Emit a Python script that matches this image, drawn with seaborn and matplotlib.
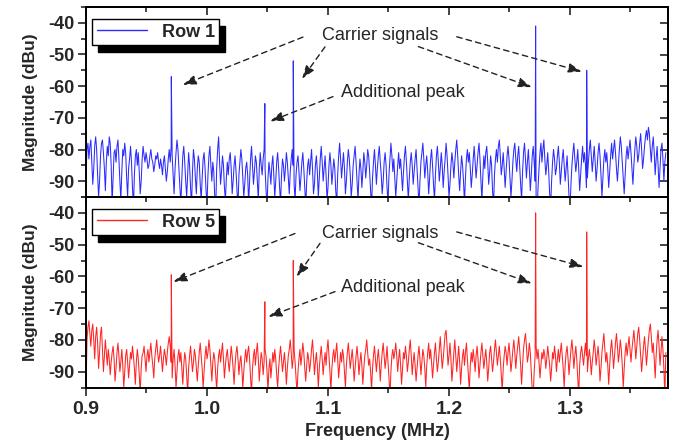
import numpy as np
import pandas as pd
import matplotlib
matplotlib.use("Agg")
import matplotlib.pyplot as plt
from matplotlib.patches import Rectangle
from matplotlib.ticker import MultipleLocator, NullFormatter
import seaborn as sns

# ---------------- data ----------------
freq_start = 0.9
freq_step = 0.0008

row1_noise = [
    -88, -80, -78, -83, -79, -77, -84, -91, -86, -79, -76, -80, -88, -95, -90, -82, -78, -77, -81, -86,
    -93, -84, -79, -82, -76, -78, -85, -97, -89, -81, -80, -84, -79, -77, -83, -90, -96, -87, -80, -82,
    -78, -81, -89, -95, -86, -83, -79, -84, -92, -98, -88, -82, -80, -85, -81, -87, -94, -90, -83, -79,
    -82, -84, -81, -83, -86, -85, -82, -80, -83, -84, -87, -85, -82, -83, -81, -84, -86, -83, -85, -88,
    -84, -82, -86, -90, -87, -83, -80, -84, -79, -82, -88, -94, -86, -81, -77, -80, -86, -92, -97, -89,
    -82, -79, -84, -90, -95, -88, -81, -85, -92, -98, -87, -80, -83, -89, -94, -86, -82, -84, -91, -96,
    -89, -83, -81, -86, -93, -97, -88, -82, -79, -85, -90, -84, -87, -95, -99, -86, -80, -76, -84, -91,
    -87, -82, -85, -92, -96, -89, -84, -88, -83, -81, -86, -94, -90, -85, -82, -87, -93, -98, -88, -84,
    -80, -83, -89, -95, -91, -86, -84, -88, -97, -90, -83, -79, -85, -91, -87, -82, -84, -90, -96, -86,
    -81, -85, -88, -83, -80, -86, -93, -98, -89, -84, -87, -91, -85, -82, -88, -95, -90, -84, -81, -86,
    -92, -97, -88, -83, -85, -90, -86, -81, -84, -89, -94, -87, -83, -80, -85, -91, -96, -88, -84, -82,
    -87, -93, -89, -84, -81, -86, -92, -98, -90, -85, -83, -88, -84, -80, -86, -94, -91, -85, -82, -87,
    -95, -89, -83, -79, -84, -90, -86, -82, -88, -96, -92, -85, -81, -85, -91, -87, -83, -86, -93, -97,
    -88, -82, -78, -83, -89, -85, -81, -86, -94, -90, -84, -80, -83, -88, -95, -91, -85, -82, -79, -84,
    -90, -96, -88, -83, -86, -92, -87, -81, -84, -89, -85, -80, -82, -87, -93, -98, -89, -84, -80, -85,
    -91, -86, -82, -79, -84, -88, -94, -90, -84, -81, -85, -92, -97, -88, -83, -78, -82, -87, -83, -89,
    -95, -90, -85, -81, -86, -83, -88, -93, -87, -82, -79, -84, -90, -96, -89, -84, -81, -85, -91, -87,
    -83, -80, -86, -92, -98, -90, -84, -81, -78, -83, -89, -85, -82, -87, -94, -89, -83, -80, -85, -91,
    -96, -88, -82, -79, -84, -90, -86, -81, -85, -92, -87, -83, -78, -82, -88, -95, -91, -85, -81, -84,
    -89, -84, -80, -77, -82, -88, -93, -87, -82, -85, -90, -97, -89, -83, -80, -84, -81, -86, -92, -88,
    -83, -79, -84, -89, -85, -81, -78, -83, -90, -96, -88, -82, -86, -81, -79, -84, -91, -87, -82, -85,
    -93, -98, -88, -83, -80, -84, -79, -77, -82, -88, -85, -81, -86, -92, -87, -82, -79, -83, -89, -95,
    -90, -84, -80, -78, -83, -87, -82, -79, -85, -91, -96, -87, -81, -78, -83, -89, -84, -80, -86, -93,
    -88, -82, -79, -84, -90, -97, -99, -92, -86, -81, -78, -84, -80, -77, -83, -88, -85, -81, -87, -94,
    -98, -90, -84, -80, -83, -88, -86, -82, -79, -84, -91, -87, -83, -80, -85, -90, -86, -82, -88, -95,
    -99, -91, -85, -81, -78, -83, -87, -84, -80, -86, -93, -88, -83, -79, -84, -81, -85, -92, -89, -84,
    -80, -77, -82, -87, -83, -79, -84, -90, -86, -81, -78, -82, -88, -95, -89, -83, -80, -84, -81, -86,
    -92, -87, -82, -78, -83, -80, -77, -81, -86, -90, -85, -80, -76, -79, -84, -89, -94, -88, -82, -79,
    -83, -80, -77, -81, -86, -91, -85, -80, -76, -79, -84, -82, -78, -75, -80, -86, -83, -79, -76, -74,
    -77, -73, -75, -80, -84, -79, -76, -81, -88, -83, -79, -85, -92, -86, -80, -78, -83, -90, -84, -81,
]

row5_noise = [
    -97, -80, -76, -74, -78, -82, -77, -75, -80, -86, -79, -76, -81, -89, -84, -78, -76, -83, -90, -85,
    -80, -84, -88, -83, -86, -91, -87, -84, -82, -86, -93, -89, -84, -81, -85, -90, -87, -83, -88, -95,
    -90, -85, -83, -87, -92, -88, -84, -86, -82, -85, -89, -94, -87, -83, -86, -91, -97, -89, -85, -84,
    -82, -86, -90, -85, -83, -87, -84, -81, -85, -88, -92, -86, -83, -80, -84, -87, -85, -82, -86, -90,
    -86, -83, -85, -88, -84, -81, -79, -82, -87, -92, -86, -83, -88, -95, -90, -85, -83, -87, -84, -89,
    -94, -88, -84, -86, -91, -97, -89, -85, -82, -86, -90, -87, -83, -85, -89, -93, -88, -84, -81, -85,
    -89, -95, -90, -85, -82, -86, -84, -80, -83, -88, -93, -87, -84, -86, -91, -96, -89, -85, -83, -87,
    -84, -81, -86, -92, -88, -85, -83, -87, -90, -86, -82, -85, -89, -94, -88, -84, -82, -86, -91, -87,
    -85, -89, -95, -90, -86, -83, -87, -84, -82, -86, -92, -97, -89, -85, -83, -88, -84, -81, -86, -93,
    -88, -84, -86, -91, -87, -83, -85, -90, -96, -89, -86, -92, -88, -84, -87, -83, -86, -91, -95, -89,
    -85, -82, -86, -90, -87, -84, -88, -94, -89, -85, -83, -80, -84, -89, -86, -83, -87, -92, -97, -90,
    -86, -83, -88, -85, -81, -84, -89, -93, -88, -84, -86, -90, -87, -83, -80, -85, -91, -87, -84, -88,
    -95, -89, -85, -82, -86, -91, -87, -84, -88, -83, -80, -85, -90, -96, -89, -85, -83, -87, -84, -81,
    -86, -92, -88, -84, -87, -83, -85, -90, -95, -88, -84, -81, -85, -89, -86, -83, -87, -93, -89, -85,
    -82, -86, -91, -87, -84, -88, -94, -89, -85, -83, -80, -84, -88, -86, -90, -96, -89, -85, -82, -86,
    -90, -86, -83, -87, -93, -88, -84, -81, -85, -89, -86, -82, -87, -92, -98, -90, -85, -83, -86, -84,
    -81, -85, -90, -86, -83, -88, -94, -89, -84, -86, -82, -85, -90, -87, -83, -80, -85, -91, -87, -84,
    -88, -93, -89, -85, -82, -86, -91, -87, -83, -85, -89, -95, -88, -84, -81, -86, -83, -87, -92, -88,
    -84, -81, -86, -90, -87, -83, -79, -84, -89, -86, -82, -78, -77, -82, -88, -85, -81, -86, -93, -89,
    -84, -80, -85, -90, -86, -82, -87, -94, -89, -85, -83, -88, -84, -81, -86, -91, -96, -88, -84, -87,
    -83, -86, -90, -85, -82, -86, -92, -88, -84, -81, -85, -89, -86, -83, -87, -93, -89, -84, -82, -86,
    -90, -87, -83, -80, -84, -88, -85, -82, -86, -91, -96, -89, -85, -82, -84, -88, -84, -81, -85, -90,
    -87, -83, -80, -84, -89, -85, -82, -79, -83, -88, -94, -88, -83, -80, -78, -82, -87, -85, -81, -84,
    -90, -96, -98, -90, -85, -82, -86, -83, -87, -92, -88, -84, -86, -83, -85, -89, -86, -82, -85, -88,
    -93, -89, -84, -86, -82, -85, -90, -86, -83, -87, -84, -81, -85, -89, -95, -88, -84, -82, -86, -91,
    -87, -83, -80, -84, -89, -85, -82, -86, -92, -97, -88, -84, -82, -85, -88, -84, -81, -85, -90, -86,
    -83, -86, -91, -87, -84, -80, -83, -88, -85, -82, -86, -93, -89, -84, -81, -78, -83, -87, -84, -88,
    -94, -88, -83, -80, -84, -89, -85, -81, -78, -82, -87, -84, -80, -83, -88, -95, -89, -84, -81, -85,
    -82, -79, -83, -87, -83, -80, -77, -81, -86, -82, -78, -76, -80, -85, -90, -86, -82, -79, -83, -88,
    -84, -80, -77, -75, -79, -84, -81, -86, -92, -85, -80, -77, -82, -88, -84, -79, -83, -89, -98, -84,
]

peak_freq = [0.9705, 1.0478, 1.0713, 1.2716, 1.3138]
row1_peak = [-57, -65.5, -52, -41, -55]
row5_peak = [-59.5, -68, -55, -40, -46]

series_labels = ["Row 1", "Row 5"]
series_colors = ["#2b2bff", "#ff2424"]

carrier_text = "Carrier signals"
additional_text = "Additional peak"

y_ticks = [-40, -50, -60, -70, -80, -90]

# ---------------- build frames ----------------
def build(noise, peaks):
    f = freq_start + freq_step * np.arange(len(noise))
    df = pd.DataFrame({"freq": np.concatenate([f, peak_freq]),
                       "mag": np.concatenate([noise, peaks])})
    return df.sort_values("freq").reset_index(drop=True)

frames = [build(row1_noise, row1_peak), build(row5_noise, row5_peak)]

# ---------------- style ----------------
sns.set_style("ticks")
plt.rcParams["font.family"] = ["Liberation Sans", "DejaVu Sans"]
plt.rcParams["axes.unicode_minus"] = False

W, H = 677, 443
fig = plt.figure(figsize=(W / 100, H / 100), dpi=100)
left, right = 86 / W, 668 / W
ax1 = fig.add_axes([left, 1 - 197 / H, right - left, (197 - 7) / H])
ax2 = fig.add_axes([left, 1 - 387.5 / H, right - left, (387.5 - 197) / H], sharex=ax1)

annos = [
    dict(ctext=(1.143, -44.0), atext=(1.162, -62.1),
         arrows=[((1.0793, -44.5), (0.980, -59.6)),
                 ((1.0975, -47.6), (1.0785, -57.7)),
                 ((1.2064, -44.4), (1.3097, -55.4)),
                 ((1.1747, -47.5), (1.2683, -60.3)),
                 ((1.1041, -63.3), (1.0521, -71.1))]),
    dict(ctext=(1.143, -46.4), atext=(1.162, -63.4),
         arrows=[((1.0727, -46.5), (0.9722, -61.7)),
                 ((1.0934, -49.6), (1.0741, -60.1)),
                 ((1.2064, -46.0), (1.311, -57.0)),
                 ((1.1747, -49.4), (1.2683, -62.2)),
                 ((1.1058, -64.8), (1.0507, -72.7))]),
]

def style_ticks(a, axis, direction):
    a.tick_params(axis=axis, which="both", direction=direction, width=1.2)
    a.tick_params(axis=axis, which="major", length=5.5)
    a.tick_params(axis=axis, which="minor", length=3.5)

for ax, df, lab, col, an in zip([ax1, ax2], frames, series_labels, series_colors, annos):
    sns.lineplot(data=df, x="freq", y="mag", ax=ax, color=col, lw=0.75,
                 estimator=None, sort=True, label=lab)
    ax.set_xlim(0.9, 1.381)
    ax.set_ylim(-95, -35)
    ax.xaxis.set_major_locator(MultipleLocator(0.1))
    ax.xaxis.set_minor_locator(MultipleLocator(0.05))
    ax.yaxis.set_minor_locator(MultipleLocator(5))
    ax.set_yticks(y_ticks)
    style_ticks(ax, "x", "out")
    style_ticks(ax, "y", "out")
    ax.tick_params(axis="y", which="major", labelsize=13, pad=3)
    for t in ax.get_yticklabels():
        t.set_fontweight("bold")

    # mirrored ticks pointing inward on top and right
    sx = ax.secondary_xaxis("top")
    sx.xaxis.set_major_locator(MultipleLocator(0.1))
    sx.xaxis.set_minor_locator(MultipleLocator(0.05))
    sx.xaxis.set_major_formatter(NullFormatter())
    style_ticks(sx, "x", "in")
    sy = ax.secondary_yaxis("right")
    sy.yaxis.set_major_locator(MultipleLocator(10))
    sy.yaxis.set_minor_locator(MultipleLocator(5))
    sy.yaxis.set_major_formatter(NullFormatter())
    style_ticks(sy, "y", "in")
    for a in (ax, sx, sy):
        for s in a.spines.values():
            s.set_linewidth(1.4)
            s.set_color("black")

    ax.set_ylabel("Magnitude (dBu)", fontsize=12.5, fontweight="bold", labelpad=7)
    ax.set_xlabel("")

    ax.text(*an["ctext"], carrier_text, ha="center", va="center", fontsize=13)
    ax.text(*an["atext"], additional_text, ha="center", va="center", fontsize=13)
    for (s, e) in an["arrows"]:
        ax.annotate("", xy=e, xytext=s,
                    arrowprops=dict(arrowstyle="-|>,head_length=0.8,head_width=0.28",
                                    linestyle=(0, (4, 3)), color="#222222", lw=1.0,
                                    shrinkA=0, shrinkB=0))

    leg = ax.legend(loc="upper left", bbox_to_anchor=(6 / 582, 1 - 12 / 190),
                    borderaxespad=0, fancybox=False, framealpha=1, edgecolor="black",
                    prop=dict(weight="bold", size=13), handlelength=2.8,
                    handletextpad=0.8, borderpad=0.25)
    leg.get_frame().set_linewidth(1.0)
    for h in leg.get_lines():
        h.set_linewidth(1.0)

ax1.tick_params(axis="x", labelbottom=False)
ax2.tick_params(axis="x", which="major", labelsize=14, pad=4)
for t in ax2.get_xticklabels():
    t.set_fontweight("bold")
ax2.set_xlabel("Frequency (MHz)", fontsize=13, fontweight="bold", labelpad=4)
fig.align_ylabels([ax1, ax2])

# black offset shadow behind each legend
fig.canvas.draw()
for ax in [ax1, ax2]:
    leg = ax.get_legend()
    bb = leg.get_frame().get_window_extent()
    inv = ax.transAxes.inverted()
    (x0, y0) = inv.transform((bb.x0 + 6, bb.y0 - 7))
    (x1, y1) = inv.transform((bb.x1 + 6, bb.y1 - 7))
    ax.add_patch(Rectangle((x0, y0), x1 - x0, y1 - y0, transform=ax.transAxes,
                           facecolor="black", edgecolor="black", zorder=4.9,
                           clip_on=False))

fig.savefig("out.png", dpi=100)
